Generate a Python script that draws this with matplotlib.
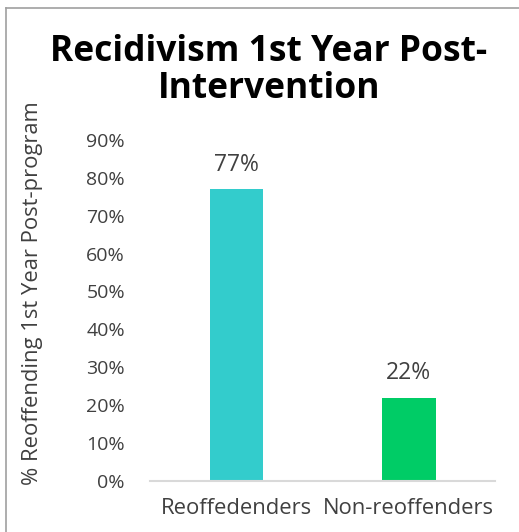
import matplotlib.pyplot as plt
from matplotlib.lines import Line2D
from matplotlib.ticker import PercentFormatter

categories = ["Reoffedenders", "Non-reoffenders"]
values = [0.77, 0.22]
value_labels = ["77%", "22%"]
colors = ["#33CCCC", "#00CC66"]

plt.rcParams["font.family"] = ["Open Sans", "DejaVu Sans"]
text_color = "#404040"

fig = plt.figure(figsize=(5.19, 5.32), dpi=100)
ax = fig.add_axes([0.289, 0.096, 0.665, 0.641])

x = range(len(categories))
bars = ax.bar(x, values, width=0.31, color=colors)
for bar, label in zip(bars, value_labels):
    ax.text(bar.get_x() + bar.get_width() / 2, bar.get_height() + 0.065,
            label, ha="center", va="center", fontsize=16.5, color=text_color)

ax.set_xlim(-0.5, 1.5)
ax.set_ylim(0, 0.9)
ax.set_yticks([i / 10 for i in range(10)])
ax.yaxis.set_major_formatter(PercentFormatter(1.0, decimals=0))
ax.set_xticks(list(x))
ax.set_xticklabels(categories)
ax.tick_params(axis="both", length=0, labelsize=14, colors=text_color)
ax.tick_params(axis="x", labelsize=15.8, pad=12)
ax.tick_params(axis="y", pad=18)
for side in ["top", "right", "left"]:
    ax.spines[side].set_visible(False)
ax.spines["bottom"].set_color("#D9D9D9")
ax.spines["bottom"].set_linewidth(1.5)

fig.text(0.518, 0.868, "Recidivism 1st Year Post-\nIntervention", ha="center",
         va="center", fontsize=25.5, fontweight="bold", color="black",
         linespacing=1.05)
fig.text(0.062, 0.449, "% Reoffending 1st Year Post-program", rotation=90,
         ha="center", va="center", fontsize=15.8, color=text_color)

# chart frame (top and left edges visible)
fig.add_artist(Line2D([6 / 519, 1], [1 - 8 / 532] * 2, color="#A0A0A0", lw=1.2))
fig.add_artist(Line2D([6 / 519] * 2, [0, 1 - 8 / 532], color="#A0A0A0", lw=1.2))

fig.savefig("out.png", dpi=100)
